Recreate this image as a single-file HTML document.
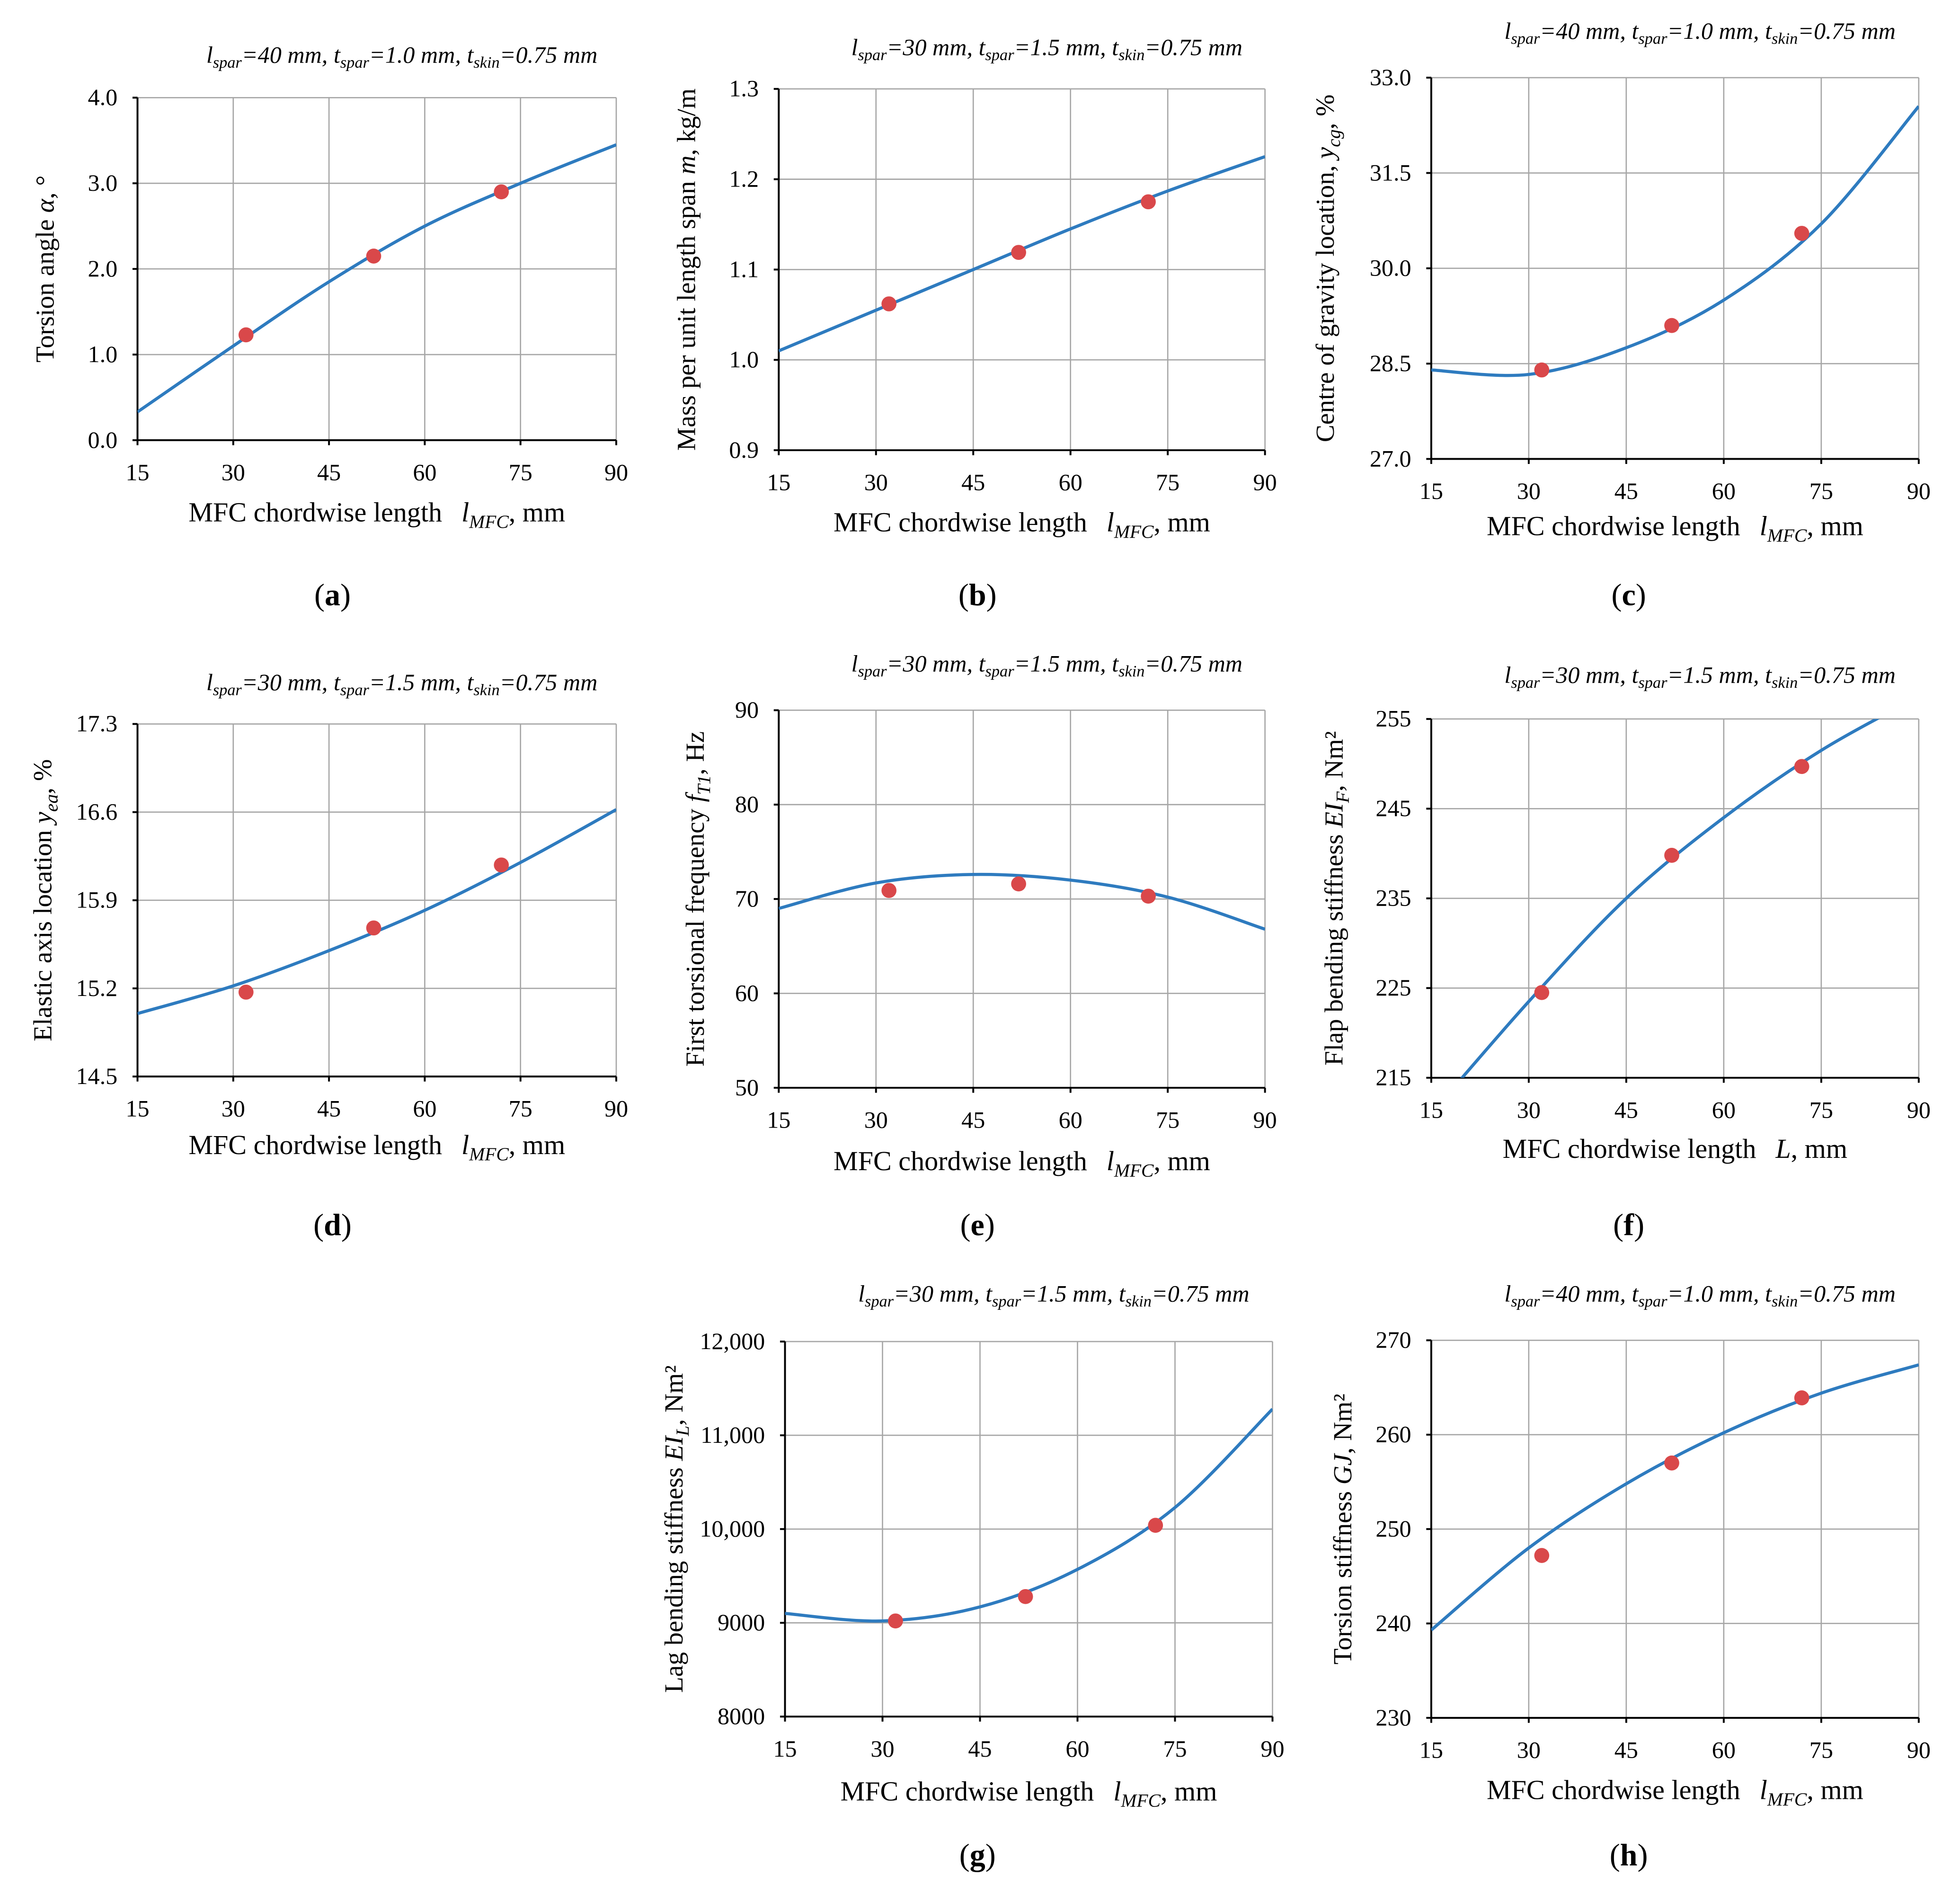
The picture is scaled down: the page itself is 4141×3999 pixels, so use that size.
<!DOCTYPE html>
<html><head><meta charset="utf-8"><style>
html,body{margin:0;padding:0;background:#fff}
svg{display:block}
text{font-family:"Liberation Serif",serif;fill:#000}
</style></head><body>
<svg id="fig" width="4141" height="3999" viewBox="0 0 1568 1514" xmlns="http://www.w3.org/2000/svg"></svg>
<script>
const xTicks=[15,30,45,60,75,90];
const ptX=[32,52,72];
const curveX=[15,30,45,60,75,90];
const aY=[1.23,2.15,2.9]; const aC=[0.33,1.1,1.85,2.5,3.0,3.45]; const aT=["0.0","1.0","2.0","3.0","4.0"];
const bY=[1.062,1.119,1.175]; const bC=[1.01,1.055,1.1,1.145,1.187,1.225]; const bT=["0.9","1.0","1.1","1.2","1.3"];
const cY=[28.4,29.1,30.55]; const cC=[28.4,28.33,28.75,29.5,30.7,32.55]; const cT=["27.0","28.5","30.0","31.5","33.0"];
const dY=[15.17,15.68,16.18]; const dC=[15.0,15.22,15.5,15.82,16.2,16.62]; const dT=["14.5","15.2","15.9","16.6","17.3"];
const eY=[70.9,71.6,70.3]; const eC=[69,71.7,72.6,72,70.2,66.8]; const eT=["50","60","70","80","90"];
const fY=[224.5,239.8,249.7]; const fC=[211,223.5,235,244,251.5,257.5]; const fT=["215","225","235","245","255"];
const gY=[9020,9280,10040]; const gC=[9100,9020,9170,9570,10230,11280]; const gT=["8000","9000","10,000","11,000","12,000"];
const hY=[247.2,257,263.9]; const hC=[239.3,248,254.8,260.2,264.4,267.4]; const hT=["230","240","250","260","270"];

const NS="http://www.w3.org/2000/svg";
const svg=document.getElementById('fig');
function mk(t,a,p){const e=document.createElementNS(NS,t);for(const k in a)e.setAttribute(k,a[k]);(p||svg).appendChild(e);return e;}
const ttl40='<tspan font-style="italic">l</tspan><tspan font-style="italic" font-size="13" dy="4">spar</tspan><tspan font-style="italic" dy="-4">=40 mm, t</tspan><tspan font-style="italic" font-size="13" dy="4">spar</tspan><tspan font-style="italic" dy="-4">=1.0 mm, t</tspan><tspan font-style="italic" font-size="13" dy="4">skin</tspan><tspan font-style="italic" dy="-4">=0.75 mm</tspan>';
const ttl30=ttl40.replace('=40','=30').replace('=1.0','=1.5');
const xl='MFC chordwise length <tspan dx="10" font-style="italic">l</tspan><tspan font-style="italic" font-size="15" dy="5">MFC</tspan><tspan dy="-5">, mm</tspan>';
const xlL='MFC chordwise length <tspan dx="10" font-style="italic">L</tspan>, mm';
const panels=[
 {id:'a',L:110,R:493,T:78,B:352,ymin:0,ymax:4,ys:aT,pts:aY,cur:aC,title:ttl40,ty:50,yl:'Torsion angle <tspan font-style="italic">α</tspan>, °',ylx:43,xl:xl,xly:417,lab:484,lx:266},
 {id:'b',L:623,R:1012,T:71,B:360,ymin:0.9,ymax:1.3,ys:bT,pts:bY,cur:bC,title:ttl30,ty:44,yl:'Mass per unit length span  <tspan font-style="italic">m</tspan>, kg/m',ylx:556,xl:xl,xly:425,lab:484,lx:782},
 {id:'c',L:1145,R:1535,T:62,B:367,ymin:27,ymax:33,ys:cT,pts:cY,cur:cC,title:ttl40,ty:31,yl:'Centre of gravity location,  <tspan font-style="italic">y</tspan><tspan font-style="italic" font-size="15" dy="5">cg</tspan><tspan dy="-5">, %</tspan>',ylx:1067,xl:xl,xly:428,lab:484,lx:1303},
 {id:'d',L:110,R:493,T:579,B:861,ymin:14.5,ymax:17.3,ys:dT,pts:dY,cur:dC,title:ttl30,ty:552,yl:'Elastic axis location <tspan font-style="italic">y</tspan><tspan font-style="italic" font-size="15" dy="5">ea</tspan><tspan dy="-5">, %</tspan>',ylx:41,xl:xl,xly:923,lab:988,lx:266},
 {id:'e',L:623,R:1012,T:568,B:870,ymin:50,ymax:90,ys:eT,pts:eY,cur:eC,title:ttl30,ty:537,yl:'First torsional frequency  <tspan font-style="italic">f</tspan><tspan font-style="italic" font-size="15" dy="5">T1</tspan><tspan dy="-5">, Hz</tspan>',ylx:563,xl:xl,xly:936,lab:988,lx:782},
 {id:'f',L:1145,R:1535,T:575,B:862,ymin:215,ymax:255,ys:fT,pts:fY,cur:fC,title:ttl30,ty:546,yl:'Flap bending stiffness  <tspan font-style="italic">EI</tspan><tspan font-style="italic" font-size="15" dy="5">F</tspan><tspan dy="-5">, Nm²</tspan>',ylx:1074,xl:xlL,xly:926,lab:988,lx:1303},
 {id:'g',L:628,R:1018,T:1073,B:1373,ymin:8000,ymax:12000,ys:gT,pts:gY,cur:gC,title:ttl30,ty:1041,yl:'Lag bending stiffness  <tspan font-style="italic">EI</tspan><tspan font-style="italic" font-size="15" dy="5">L</tspan><tspan dy="-5">, Nm²</tspan>',ylx:546,xl:xl,xly:1440,lab:1492,lx:782},
 {id:'h',L:1145,R:1535,T:1072,B:1374,ymin:230,ymax:270,ys:hT,pts:hY,cur:hC,title:ttl40,ty:1041,yl:'Torsion  stiffness  <tspan font-style="italic">GJ</tspan>, Nm²',ylx:1081,xl:xl,xly:1439,lab:1492,lx:1303}
];
panels.forEach(p=>{
 const g=mk('g',{});
 
 
 const sx=v=>p.L+(v-15)/75*(p.R-p.L);
 const sy=v=>p.B-(v-p.ymin)/(p.ymax-p.ymin)*(p.B-p.T);
 const cid='clip'+p.id;
 const cp=mk('clipPath',{id:cid},g);mk('rect',{x:p.L,y:p.T,width:p.R-p.L,height:p.B-p.T},cp);
 xTicks.forEach(v=>{const x=sx(v);
  const l=mk('line',{x1:x,x2:x,y1:p.T,y2:p.B,stroke:'#a6a6a6','stroke-width':1},g);
  
  mk('line',{x1:x,x2:x,y1:p.B,y2:p.B+4,stroke:'#000','stroke-width':1.5},g);
  const t=mk('text',{x:x,y:p.B+32,'font-size':19,'text-anchor':'middle'},g);t.textContent=v;
  });
 p.ys.forEach((s,i)=>{const v=p.ymin+i*(p.ymax-p.ymin)/(p.ys.length-1);const y=sy(v);
  const l=mk('line',{x1:p.L,x2:p.R,y1:y,y2:y,stroke:'#a6a6a6','stroke-width':1},g);
  
  mk('line',{x1:p.L-4,x2:p.L,y1:y,y2:y,stroke:'#000','stroke-width':1.5},g);
  const t=mk('text',{x:p.L-16,y:y+6,'font-size':19,'text-anchor':'end'},g);t.textContent=s;
  });
 const ax=mk('path',{d:`M${p.L},${p.T}V${p.B}H${p.R}`,fill:'none',stroke:'#000','stroke-width':1.5},g);
 
 const P=curveX.map((x,i)=>[sx(x),sy(p.cur[i])]);
 let d=`M${P[0][0]},${P[0][1]}`;
 for(let i=0;i<P.length-1;i++){const p0=P[Math.max(0,i-1)],p1=P[i],p2=P[i+1],p3=P[Math.min(P.length-1,i+2)];
  d+=`C${p1[0]+(p2[0]-p0[0])/6},${p1[1]+(p2[1]-p0[1])/6} ${p2[0]-(p3[0]-p1[0])/6},${p2[1]-(p3[1]-p1[1])/6} ${p2[0]},${p2[1]}`;}
 const c=mk('path',{d:d,fill:'none',stroke:'#2e7bbf','stroke-width':2.5,'clip-path':`url(#${cid})`},g);
 
 ptX.forEach((x,i)=>{const m=mk('circle',{cx:sx(x),cy:sy(p.pts[i]),r:6,fill:'#d9484a'},g);
  });
 const t=mk('text',{x:(p.L+p.R)/2+20,y:p.ty,'font-size':19,'text-anchor':'middle'},g);t.innerHTML=p.title;
 
 const yc=(p.T+p.B)/2;
 const yl=mk('text',{x:p.ylx,y:yc,'font-size':21,'text-anchor':'middle',transform:`rotate(-90 ${p.ylx} ${yc})`},g);yl.innerHTML=p.yl;
 
 const xt=mk('text',{x:(p.L+p.R)/2,y:p.xly,'font-size':22,'text-anchor':'middle'},g);xt.innerHTML=p.xl;
 
 const lb=mk('text',{x:p.lx,y:p.lab,'font-size':25,'text-anchor':'middle'},g);lb.innerHTML='(<tspan font-weight="bold">'+p.id+'</tspan>)';
 
});
</script>
</body></html>
